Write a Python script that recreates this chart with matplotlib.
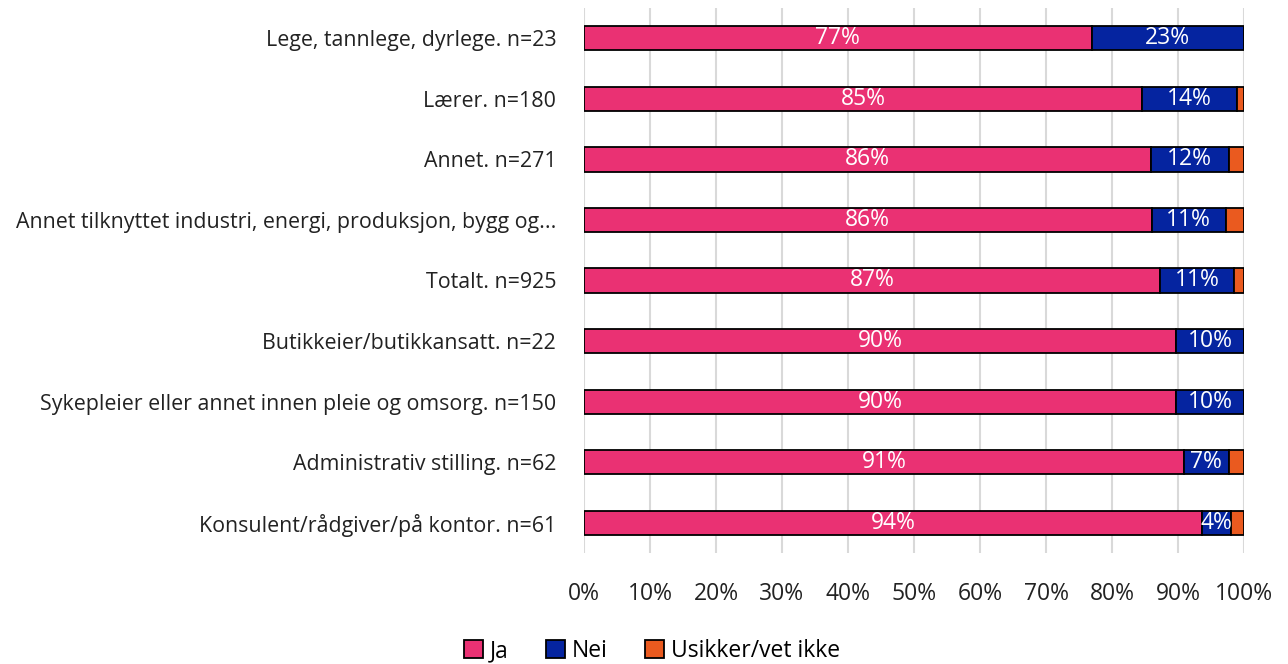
import matplotlib
matplotlib.use("Agg")
import matplotlib.pyplot as plt
from matplotlib.patches import Patch

categories = [
    "Lege, tannlege, dyrlege. n=23",
    "Lærer. n=180",
    "Annet. n=271",
    "Annet tilknyttet industri, energi, produksjon, bygg og...",
    "Totalt. n=925",
    "Butikkeier/butikkansatt. n=22",
    "Sykepleier eller annet innen pleie og omsorg. n=150",
    "Administrativ stilling. n=62",
    "Konsulent/rådgiver/på kontor. n=61",
]
ja = [76.9, 84.6, 85.9, 86.0, 87.3, 89.7, 89.7, 90.9, 93.6]
nei = [23.1, 14.3, 11.8, 11.2, 11.2, 10.3, 10.3, 6.8, 4.4]
usikker = [0.0, 1.1, 2.3, 2.8, 1.5, 0.0, 0.0, 2.3, 2.0]
series_names = ["Ja", "Nei", "Usikker/vet ikke"]
colors = ["#EA3173", "#0524A0", "#EA5A1F"]
ticks = [0, 10, 20, 30, 40, 50, 60, 70, 80, 90, 100]

plt.rcParams['font.family'] = ['Open Sans', 'DejaVu Sans']
FS = 15.4

fig = plt.figure(figsize=(12.88, 6.64), dpi=100)
ax = fig.add_axes([584/1288, 1-553/664, 660/1288, 545/664])

y = list(range(len(categories)))
h = 0.4
left = [0]*len(categories)
for vals, col, name in zip([ja, nei, usikker], colors, series_names):
    ax.barh(y, vals, left=left, height=h, color=col, edgecolor="black",
            linewidth=1.3, label=name, zorder=3)
    if name != "Usikker/vet ikke":
        for yi, l, v in zip(y, left, vals):
            if v > 0:
                ax.text(l + v/2, yi, f"{round(v):d}%", ha="center", va="center",
                        color="white", fontsize=16.5, zorder=4)
    left = [a+b for a, b in zip(left, vals)]

ax.set_xlim(0, 100)
ax.set_ylim(len(categories)-0.5, -0.5)
ax.set_yticks(y)
ax.set_yticklabels(categories, fontsize=FS, color="#222222")
ax.set_xticks(ticks)
ax.set_xticklabels([f"{t}%" for t in ticks], fontsize=16.5, color="#222222")
ax.tick_params(axis="both", length=0)
ax.tick_params(axis="x", pad=21)
ax.tick_params(axis="y", pad=20)
ax.grid(axis="x", color="#D9D9D9", linewidth=1.5, zorder=0)
for s in ax.spines.values():
    s.set_visible(False)

handles = [Patch(facecolor=c, edgecolor="black", linewidth=1.3, label=n)
           for c, n in zip(colors, series_names)]
fig.legend(handles=handles, loc="center", bbox_to_anchor=(652/1288, 1-651/664),
           ncol=3, frameon=False, fontsize=16.5, handlelength=0.85, handleheight=0.85,
           handletextpad=0.3, columnspacing=1.6)

fig.savefig("out.png", dpi=100)
